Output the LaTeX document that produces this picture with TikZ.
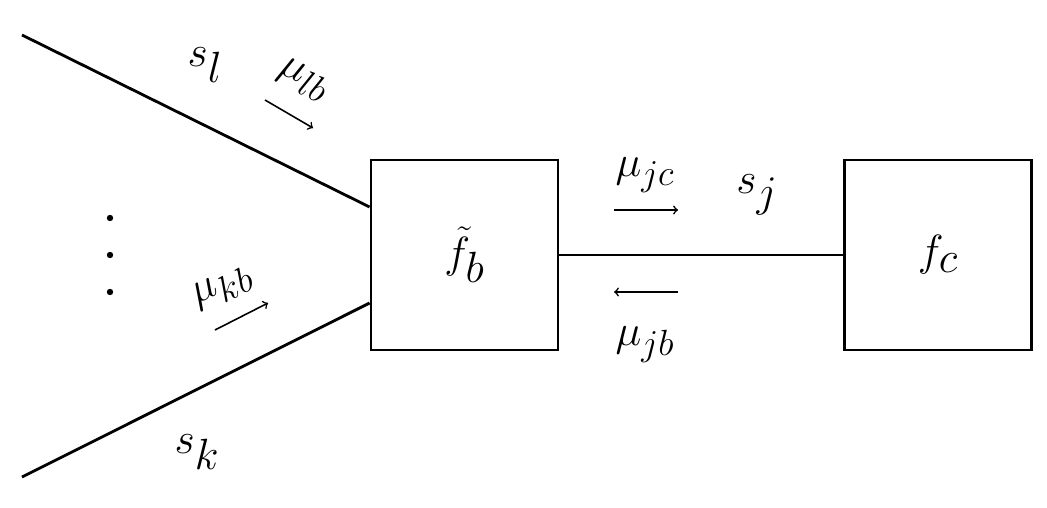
\documentclass[tikz,border=0pt]{standalone}
\begin{document}
\begin{tikzpicture}[x=0.02cm,y=-0.02cm,
  box/.style={draw,line width=1.6pt,minimum width=187*0.02cm,minimum height=190*0.02cm,font=\fontsize{46}{50}\selectfont},
  big/.style={font=\fontsize{44}{48}\selectfont},
  small/.style={font=\fontsize{32}{36}\selectfont,inner sep=0pt},
  ln/.style={line width=1.6pt},
  ar/.style={->,line width=0.9pt}]
\useasboundingbox (0,0) rectangle (1047,507);
\node[box] (fb) at (464.5,255) {$\tilde f_b$};
\node[box] (fc) at (938,255) {$f_c$};
\coordinate (a) at (22,35);
\coordinate (b) at (22,477);
\draw[ln] (a) -- (fb.west |- 0,207);
\draw[ln] (b) -- (fb.west |- 0,303);
\draw[ln] (fb) -- (fc);
\foreach \y in {218,255,292} \fill (110,\y) circle (3.2);
\node[big] (sl) at (205,65) {$s_l$};
\node[small,rotate=-25] (mlb) at (303,80) {$\mu_{lb}$};
\coordinate (l1) at (265,100); \coordinate (l2) at (313,128);
\draw[ar] (l1) -- (l2);
\node[small,rotate=25] (mkb) at (223,288) {$\mu_{kb}$};
\coordinate (k1) at (215,330); \coordinate (k2) at (268,303);
\draw[ar] (k1) -- (k2);
\node[big] (sk) at (197,452) {$s_k$};
\node[small] (mjc) at (645,175) {$\mu_{jc}$};
\coordinate (j1) at (614,210); \coordinate (j2) at (678,210);
\draw[ar] (j1) -- (j2);
\node[big] (sj) at (757,195) {$s_j$};
\coordinate (b1) at (678,292); \coordinate (b2) at (614,292);
\draw[ar] (b1) -- (b2);
\node[small] (mjb) at (645,345) {$\mu_{jb}$};
\end{tikzpicture}
\end{document}
